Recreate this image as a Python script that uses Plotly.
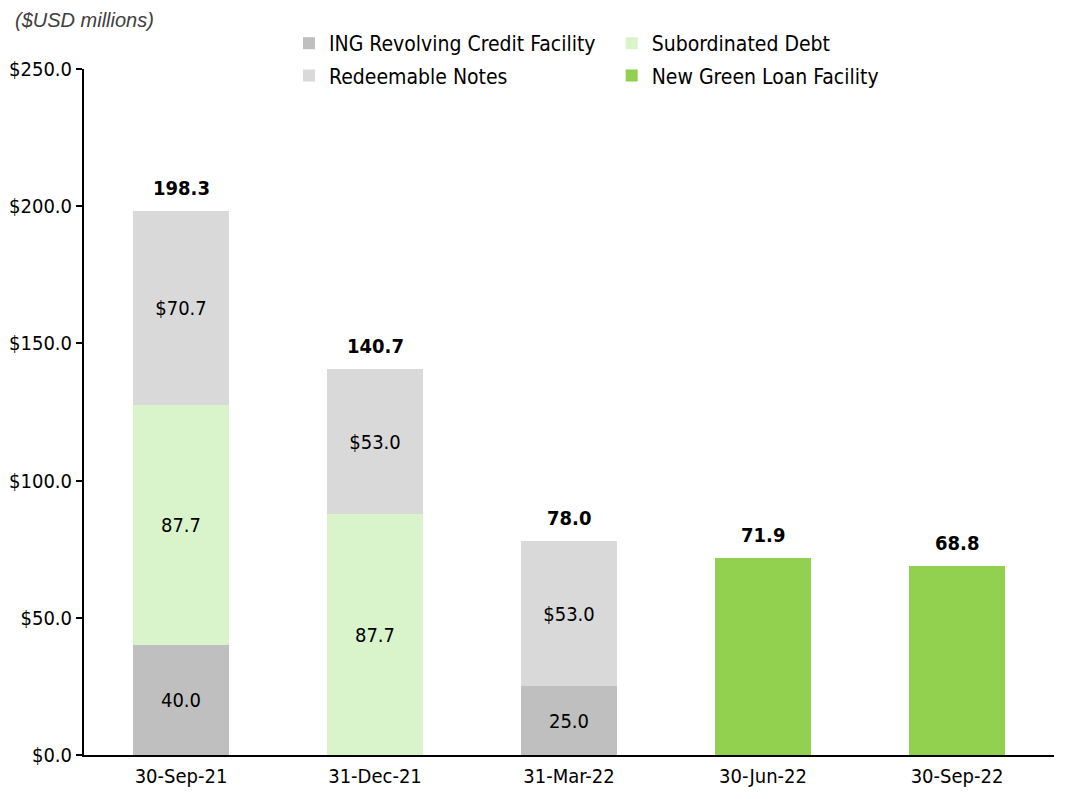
import plotly.graph_objects as go

categories = ["30-Sep-21", "31-Dec-21", "31-Mar-22", "30-Jun-22", "30-Sep-22"]
ing = [40.0, None, 25.0, None, None]
sub_debt = [87.7, 87.7, None, None, None]
redeemable = [70.6, 53.0, 53.0, None, None]
redeemable_labels = ["$70.7", "$53.0", "$53.0", "", ""]
green = [None, None, None, 71.9, 68.8]
totals = [198.3, 140.7, 78.0, 71.9, 68.8]

FONT = "Tahoma, DejaVu Sans Condensed, DejaVu Sans, sans-serif"

def lab(vals):
    return [f"{v:.1f}" if v else "" for v in vals]

fig = go.Figure()
fig.add_trace(go.Bar(name="ING Revolving Credit Facility", x=categories, y=ing,
                     marker_color="#bfbfbf", text=lab(ing),
                     legend="legend", legendgroup="a"))
fig.add_trace(go.Bar(name="Subordinated Debt", x=categories, y=sub_debt,
                     marker_color="#d9f4cb", text=lab(sub_debt),
                     legend="legend2", legendgroup="b"))
fig.add_trace(go.Bar(name="Redeemable Notes", x=categories, y=redeemable,
                     marker_color="#d9d9d9", text=redeemable_labels,
                     legend="legend", legendgroup="c"))
fig.add_trace(go.Bar(name="New Green Loan Facility", x=categories, y=green,
                     marker_color="#92d050", text=["" for _ in green],
                     legend="legend2", legendgroup="d"))
fig.update_traces(selector=dict(type="bar"), textposition="inside",
                  insidetextanchor="middle", textangle=0, constraintext="none",
                  textfont=dict(family=FONT, size=20, color="black"),
                  marker_line_width=0)

annotations = [dict(x=c, y=t, xref="x", yref="y", text=f"<b>{t:.1f}</b>",
                    showarrow=False, yanchor="bottom", yshift=9,
                    font=dict(family=FONT, size=20, color="black"))
               for c, t in zip(categories, totals)]
annotations.append(dict(text="<i>($USD millions)</i>", xref="paper", yref="paper",
                        x=-0.073, y=1.071, xanchor="left", yanchor="middle",
                        showarrow=False,
                        font=dict(family="Liberation Sans, Arial", size=20, color="#404040")))

leg_common = dict(orientation="v", yanchor="top", y=1.067, xanchor="left",
                  traceorder="grouped", tracegroupgap=2,
                  font=dict(family=FONT, size=21, color="black"),
                  bgcolor="rgba(0,0,0,0)")

fig.update_layout(
    width=1079, height=799,
    barmode="stack", bargap=0.505,
    plot_bgcolor="white", paper_bgcolor="white",
    margin=dict(l=76, r=33, t=61, b=52, autoexpand=False),
    font=dict(family=FONT, size=20, color="black"),
    legend=dict(x=0.2113, **leg_common),
    legend2=dict(x=0.544, **leg_common),
    xaxis=dict(showline=True, linecolor="black", linewidth=2, ticks="",
               showgrid=False, tickfont=dict(size=20), ticklabelstandoff=2),
    yaxis=dict(range=[0, 250], dtick=50, tickprefix="$", tickformat=".1f",
               showline=True, linecolor="black", linewidth=2, ticks="outside",
               ticklen=6, tickcolor="black", tickwidth=2, showgrid=False,
               zeroline=False, tickfont=dict(size=20)),
    annotations=annotations,
)

fig.write_html("out.html")
